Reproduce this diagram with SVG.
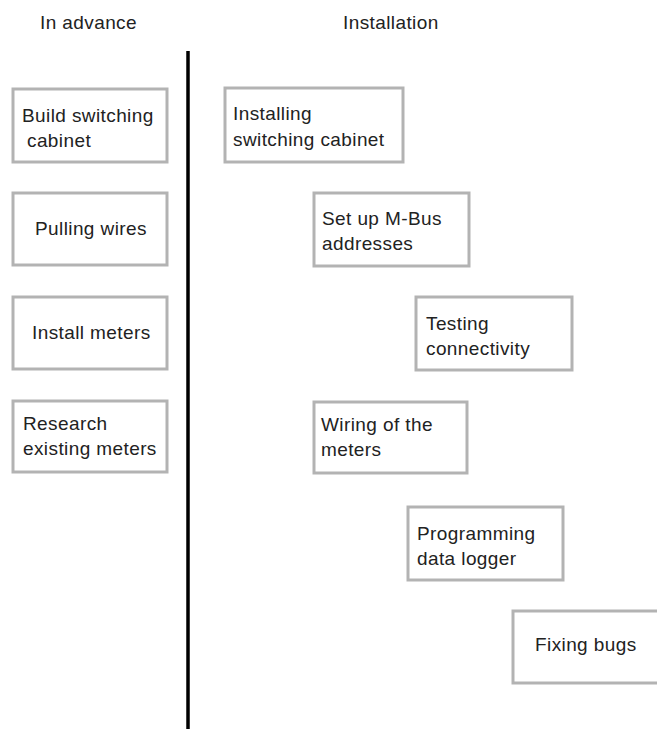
<svg xmlns="http://www.w3.org/2000/svg" width="657" height="729" viewBox="0 0 657 729">
  <style>
    .box { fill: #ffffff; stroke: #b3b3b3; stroke-width: 3; }
    .lbl { font-family: "Liberation Sans", Arial, sans-serif; font-size: 19px; fill: #222222; letter-spacing: 0.4px; }
    .divider { stroke: #000000; stroke-width: 3.5; }
  </style>
  <rect width="657" height="729" fill="#ffffff"/>

  <!-- column headings -->
  <text class="lbl" x="40" y="29">In advance</text>
  <text class="lbl" x="343" y="29">Installation</text>

  <!-- separator between the two columns -->
  <g id="connectors">
    <line class="divider" x1="188" y1="51" x2="188" y2="729"/>
  </g>

  <!-- preparation tasks -->
  <g id="build-cabinet">
    <rect class="box" x="13" y="89" width="154" height="73"/>
    <text class="lbl" x="22" y="122">Build switching</text>
    <text class="lbl" x="27" y="147">cabinet</text>
  </g>
  <g id="pulling-wires">
    <rect class="box" x="13" y="193" width="154" height="72"/>
    <text class="lbl" x="35" y="235">Pulling wires</text>
  </g>
  <g id="install-meters">
    <rect class="box" x="13" y="297" width="154" height="72"/>
    <text class="lbl" x="32" y="339">Install meters</text>
  </g>
  <g id="research-meters">
    <rect class="box" x="13" y="401" width="154" height="71"/>
    <text class="lbl" x="23" y="430">Research</text>
    <text class="lbl" x="23" y="455">existing meters</text>
  </g>

  <!-- installation steps -->
  <g id="installing-cabinet">
    <rect class="box" x="225" y="88" width="178" height="74"/>
    <text class="lbl" x="233" y="120">Installing</text>
    <text class="lbl" x="233" y="146">switching cabinet</text>
  </g>
  <g id="mbus-addresses">
    <rect class="box" x="314" y="193" width="155" height="73"/>
    <text class="lbl" x="322" y="225">Set up M-Bus</text>
    <text class="lbl" x="322" y="250">addresses</text>
  </g>
  <g id="testing-connectivity">
    <rect class="box" x="416" y="297" width="156" height="73"/>
    <text class="lbl" x="426" y="330">Testing</text>
    <text class="lbl" x="426" y="355">connectivity</text>
  </g>
  <g id="wiring-meters">
    <rect class="box" x="314" y="402" width="153" height="71"/>
    <text class="lbl" x="321" y="431">Wiring of the</text>
    <text class="lbl" x="321" y="456">meters</text>
  </g>
  <g id="programming-logger">
    <rect class="box" x="408" y="507" width="155" height="73"/>
    <text class="lbl" x="417" y="540">Programming</text>
    <text class="lbl" x="417" y="565">data logger</text>
  </g>
  <g id="fixing-bugs">
    <rect class="box" x="513" y="611" width="160" height="72"/>
    <text class="lbl" x="535" y="651">Fixing bugs</text>
  </g>
</svg>
